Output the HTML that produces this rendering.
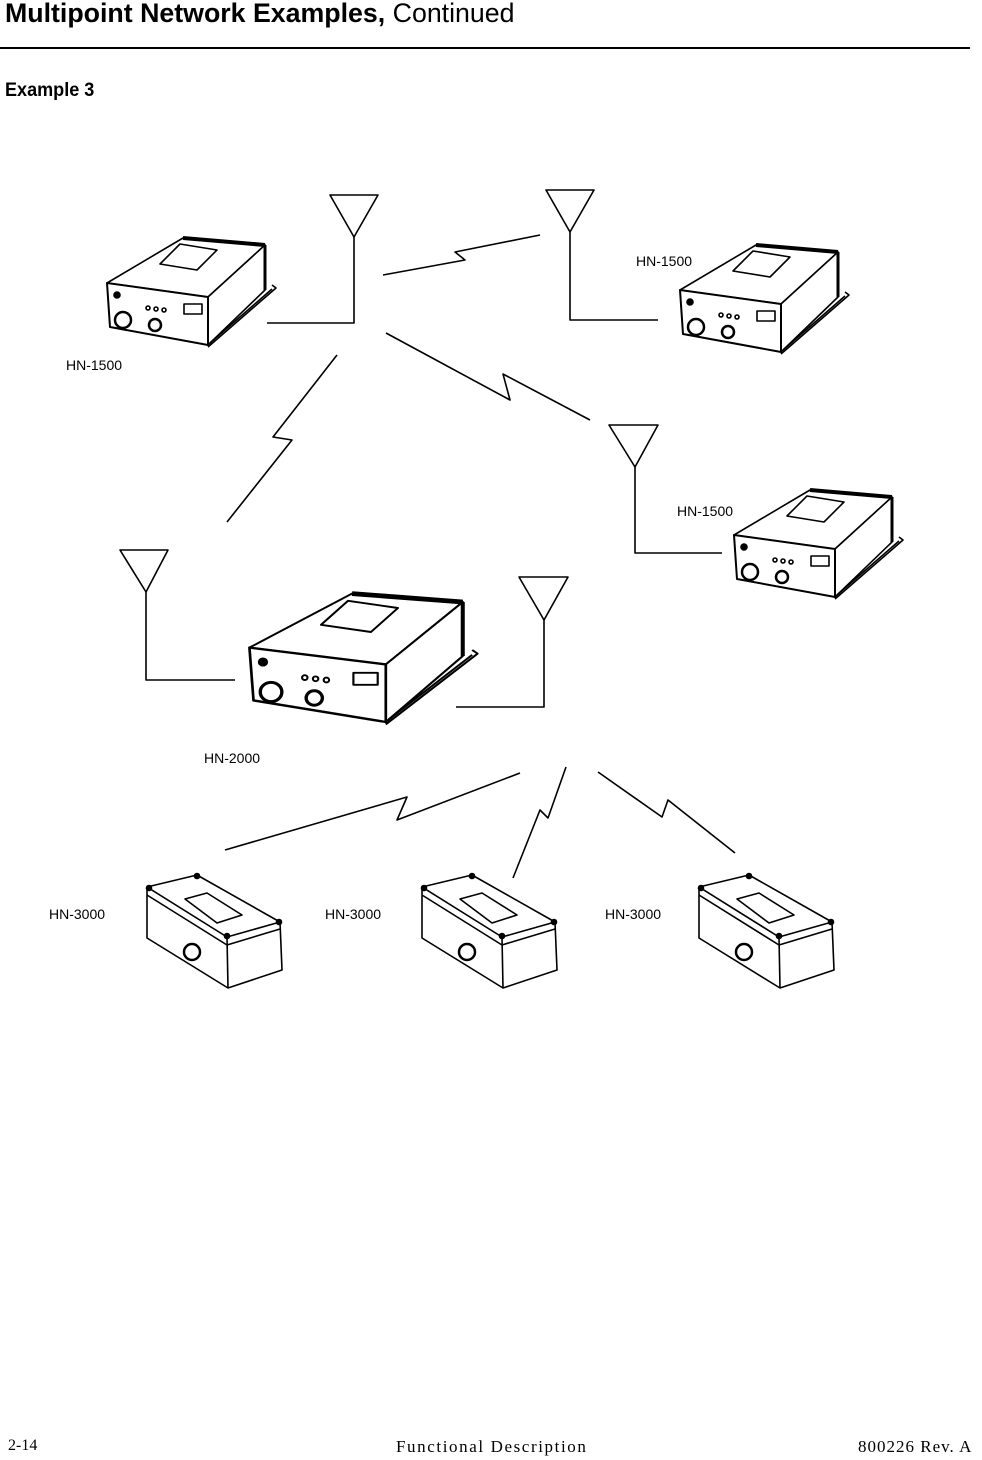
<!DOCTYPE html>
<html><head><meta charset="utf-8"><style>
html,body{margin:0;padding:0;background:#fff;}
body{width:982px;height:1460px;position:relative;overflow:hidden;font-family:"Liberation Sans",sans-serif;}
.t{position:absolute;white-space:nowrap;}
</style></head><body>
<div class="t" style="left:5px;top:-2px;font-size:27px;transform:scaleX(0.99);transform-origin:left;"><b>Multipoint Network Examples,</b> Continued</div>
<div style="position:absolute;left:0;top:47px;width:970px;height:2px;background:#000"></div>
<div class="t" style="left:5px;top:80px;font-size:19px;font-weight:bold;transform:scaleX(0.95);transform-origin:left;">Example 3</div>
<svg width="982" height="1460" style="position:absolute;left:0;top:0" fill="none" stroke="#000" stroke-width="1.6" stroke-linejoin="round">
<defs>
<g id="radio">
<polygon points="7,48 83,3 165,10 108,62" fill="#fff"/>
<polygon points="108,62 165,10 165,55 108,110" fill="#fff"/>
<polygon points="7,48 108,62 108,110 10,92" fill="#fff" stroke-width="2"/>
<line x1="83" y1="3" x2="165" y2="10" stroke-width="4"/>
<line x1="165" y1="10" x2="165" y2="55" stroke-width="3"/>
<polyline points="108,112 176,53 172,50"/>
<line x1="110" y1="108" x2="172" y2="54"/>
<polygon points="60,29 80,9 117,15 97,35"/>
<circle cx="23" cy="85" r="8" stroke-width="2.5"/>
<circle cx="55" cy="90" r="6" stroke-width="2.5"/>
<circle cx="17" cy="60" r="3" fill="#000"/>
<circle cx="48" cy="73" r="2"/><circle cx="56" cy="74" r="2"/><circle cx="64" cy="75" r="2"/>
<rect x="84" y="69" width="18" height="10"/>
</g>
<g id="box">
<polygon points="2,14 52,2 135,49 82,64" fill="#fff"/>
<polyline points="2,14 2,65 83,115 137,97 135,49"/>
<line x1="82" y1="64" x2="83" y2="115"/>
<polyline points="2,22 82,72 135,56"/>
<polygon points="40,26 62,20 97,42 72,50"/>
<circle cx="47" cy="79" r="8" stroke-width="2.5"/>
<circle cx="4" cy="15" r="2.5" fill="#000"/><circle cx="52" cy="3" r="2.5" fill="#000"/>
<circle cx="134" cy="49" r="2.5" fill="#000"/><circle cx="82" cy="63" r="2.5" fill="#000"/>
</g>
</defs>
<use href="#radio" transform="translate(100,235)"/>
<use href="#radio" transform="translate(673,242)"/>
<use href="#radio" transform="translate(727,487)"/>
<use href="#radio" transform="translate(240,590) scale(1.35,1.2)"/>
<use href="#box" transform="translate(145,873)"/>
<use href="#box" transform="translate(420,873)"/>
<use href="#box" transform="translate(697,873)"/>
<polygon points="330,195 378,195 354,237"/><polyline points="354,237 354,323 267,323"/>
<polygon points="546,190 594,190 570,232"/><polyline points="570,232 570,320 658,320"/>
<polygon points="609,425 658,425 635,467"/><polyline points="635,467 635,553 722,553"/>
<polygon points="120,550 168,550 146,592"/><polyline points="146,592 146,680 235,680"/>
<polygon points="519,577 568,577 544,620"/><polyline points="544,620 544,707 456,707"/>
<polyline points="383,275 465,260 455,252 540,235"/>
<polyline points="386,333 510,400 503,374 590,420"/>
<polyline points="337,355 273,437 292,440 227,522"/>
<polyline points="520,773 397,820 407,797 225,850"/>
<polyline points="566,767 548,818 540,810 513,878"/>
<polyline points="598,772 662,817 668,800 735,853"/>
</svg>
<div class="t" style="left:66px;top:357px;font-size:14px">HN-1500</div>
<div class="t" style="left:636px;top:253px;font-size:14px">HN-1500</div>
<div class="t" style="left:677px;top:503px;font-size:14px">HN-1500</div>
<div class="t" style="left:204px;top:750px;font-size:14px">HN-2000</div>
<div class="t" style="left:49px;top:906px;font-size:14px">HN-3000</div>
<div class="t" style="left:325px;top:906px;font-size:14px">HN-3000</div>
<div class="t" style="left:605px;top:906px;font-size:14px">HN-3000</div>
<div class="t" style="left:8px;top:1437px;font-size:16px;font-family:'Liberation Serif',serif">2-14</div>
<div class="t" style="left:396px;top:1437px;font-size:17px;letter-spacing:1.6px;font-family:'Liberation Serif',serif">Functional Description</div>
<div class="t" style="left:858px;top:1437px;font-size:17px;letter-spacing:1px;font-family:'Liberation Serif',serif">800226 Rev. A</div>
</body></html>
